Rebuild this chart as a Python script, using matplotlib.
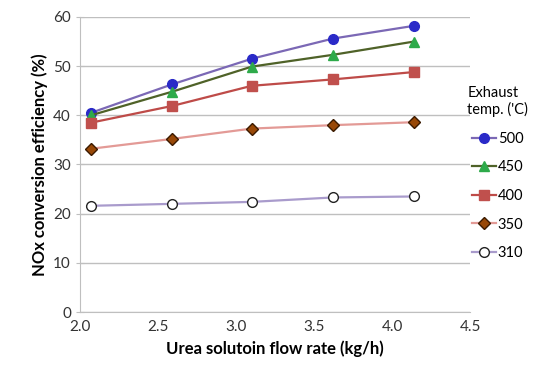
import matplotlib
matplotlib.use('Agg')
import matplotlib.pyplot as plt

plt.rcParams['font.family'] = ['Lato', 'DejaVu Sans']

# Urea flow rate (kg/h)
flow = [2.07, 2.59, 3.10, 3.62, 4.14]

# NOx conversion efficiency (%) per exhaust temperature
eff_500 = [40.5, 46.3, 51.5, 55.6, 58.2]
eff_450 = [40.0, 44.8, 49.9, 52.3, 55.0]
eff_400 = [38.5, 41.9, 46.0, 47.3, 48.8]
eff_350 = [33.2, 35.2, 37.3, 38.0, 38.6]
eff_310 = [21.6, 22.0, 22.4, 23.3, 23.5]

fig = plt.figure(figsize=(5.37, 3.68), dpi=100)
ax = fig.add_axes([0.149, 0.152, 0.727, 0.802])

ax.plot(flow, eff_500, color='#7b68b5', marker='o', ms=7, mfc='#2a2ac8', mec='#2a2ac8', lw=1.6, label='500')
ax.plot(flow, eff_450, color='#4f6228', marker='^', ms=7, mfc='#2eaa4a', mec='#2eaa4a', lw=1.6, label='450')
ax.plot(flow, eff_400, color='#be4b48', marker='s', ms=7, mfc='#c0504d', mec='#c0504d', lw=1.6, label='400')
ax.plot(flow, eff_350, color='#e39a96', marker='D', ms=6, mfc='#984807', mec='#3a1a00', lw=1.6, label='350')
ax.plot(flow, eff_310, color='#a99bcc', marker='o', ms=7, mfc='white', mec='#222222', lw=1.6, label='310')

ax.set_xlim(2.0, 4.5)
ax.set_ylim(0, 60)
ax.set_xticks([2.0, 2.5, 3.0, 3.5, 4.0, 4.5])
ax.set_xticklabels(['2.0', '2.5', '3.0', '3.5', '4.0', '4.5'])
ax.set_yticks(range(0, 61, 10))
ax.yaxis.grid(True, color='#bfbfbf', lw=1)
ax.set_axisbelow(True)
for s in ['top', 'right']:
    ax.spines[s].set_visible(False)
for s in ['left', 'bottom']:
    ax.spines[s].set_color('#bfbfbf')
ax.tick_params(axis='both', colors='#bfbfbf', labelcolor='#333333', labelsize=11, direction='inout', length=6)
ax.tick_params(axis='x', length=0, pad=6)

ax.set_xlabel('Urea solutoin flow rate (kg/h)', fontsize=12, fontweight='bold')
ax.set_ylabel('NOx conversion efficiency (%)', fontsize=12, fontweight='bold')

# legend outside on the right, title centred over entries
leg = fig.legend(loc='center right', bbox_to_anchor=(1.0, 0.53), frameon=False,
                 fontsize=10.5, title="Exhaust\ntemp. ('C)", title_fontsize=10.5,
                 handlelength=1.6, labelspacing=1.0, handletextpad=0.15, borderaxespad=0.2)

fig.savefig('out.png', dpi=100)
